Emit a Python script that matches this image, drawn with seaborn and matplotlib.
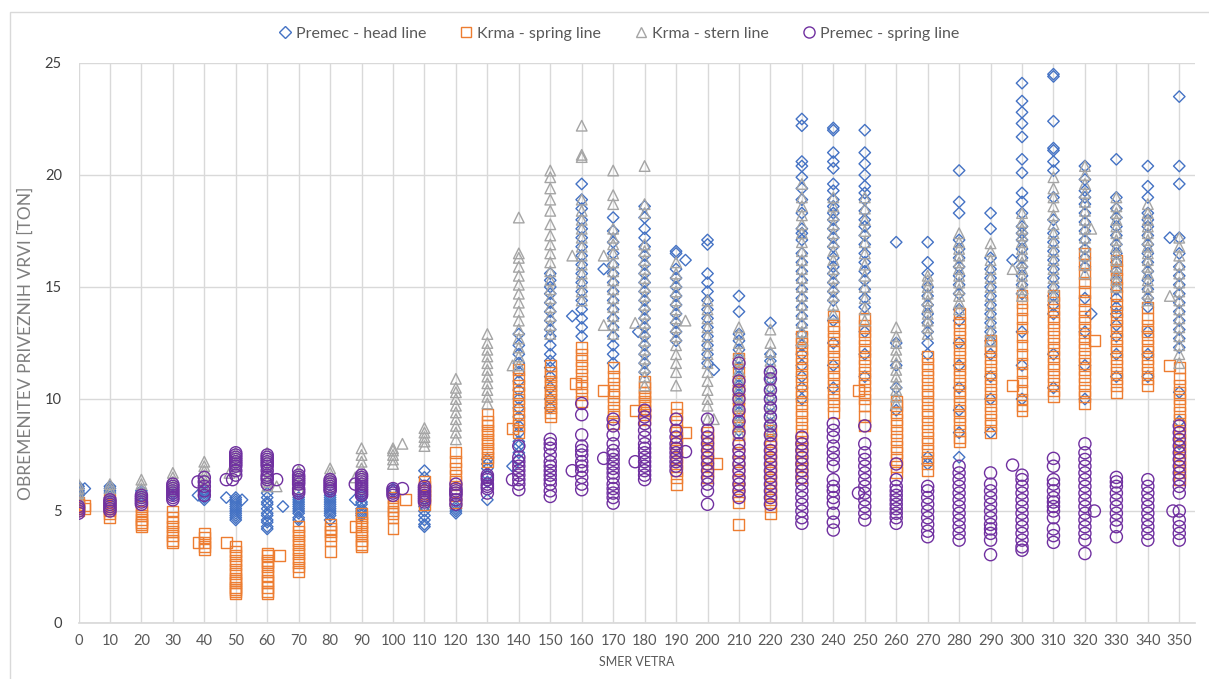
import matplotlib
matplotlib.use("Agg")
import matplotlib.pyplot as plt
from matplotlib.lines import Line2D
from matplotlib.patches import Rectangle
import seaborn as sns
import pandas as pd

# ---------------- data (wind direction -> line loads in tons) ----------------
directions = list(range(0, 360, 10))
y_ticks = [0, 5, 10, 15, 20, 25]
series_names = ["Premec - head line", "Krma - spring line", "Krma - stern line", "Premec - spring line"]

premec_head = {
    0: [5.5, 5.7, 5.8, 5.9, 6.0, 6.1], 2: [6.0],
    10: [5.6, 5.8, 5.9, 6.0, 6.1],
    20: [5.6, 5.7, 5.8, 5.9],
    30: [5.7, 5.8, 5.9],
    40: [5.5, 5.6, 5.7, 5.8, 5.9], 38: [5.7],
    50: [4.6, 4.7, 4.8, 4.9, 5.0, 5.1, 5.2, 5.3, 5.4, 5.5, 5.6], 47: [5.6], 52: [5.5],
    60: [4.2, 4.3, 4.5, 4.6, 4.8, 4.9, 5.1, 5.3, 5.4, 5.6, 5.8], 65: [5.2],
    70: [4.6, 4.7, 4.9, 5.0, 5.1, 5.2, 5.3, 5.4, 5.5, 5.6],
    80: [4.6, 4.8, 4.9, 5.0, 5.1, 5.2, 5.3, 5.4, 5.5, 5.6, 5.7, 5.9],
    90: [4.8, 4.9, 5.0, 5.1, 5.3, 5.4, 5.6, 5.7, 5.9], 88: [5.5],
    100: [5.9, 6.0],
    110: [4.3, 4.4, 4.6, 4.8, 5.0, 5.2, 5.5, 6.0, 6.5, 6.8],
    120: [4.9, 5.0, 5.1, 5.2],
    130: [5.5, 6.3, 6.6, 6.9, 7.1, 7.3],
    140: [7.3, 7.6, 7.9, 8.1, 8.5, 8.8, 9.2, 9.6, 10.0, 10.4, 10.8, 11.2, 11.6, 12.0, 12.4, 12.9], 138: [7.0],
    150: [9.6, 10.0, 10.5, 11.0, 11.4, 11.7, 12.0, 12.4, 12.8, 13.1, 13.5, 13.9, 14.3, 14.7, 15.0, 15.3, 15.6],
    160: [12.8, 13.2, 13.6, 14.0, 14.4, 14.8, 15.2, 15.6, 16.0, 16.4, 16.8, 17.2, 17.6, 18.0, 18.5, 18.9, 19.6], 157: [13.7],
    170: [11.6, 12.0, 12.4, 12.8, 13.2, 13.6, 14.0, 14.4, 14.8, 15.2, 15.6, 16.0, 16.5, 17.0, 17.5, 18.1], 167: [15.8],
    180: [11.2, 11.6, 12.0, 12.4, 12.8, 13.2, 13.6, 14.0, 14.4, 14.8, 15.2, 15.6, 16.0, 16.4, 16.8, 17.2, 17.6, 18.1, 18.6], 178: [13.0],
    190: [12.6, 13.0, 13.4, 13.8, 14.2, 14.6, 15.0, 15.4, 15.8, 16.5, 16.6], 193: [16.2],
    200: [11.6, 12.0, 12.4, 12.8, 13.2, 13.6, 14.0, 14.4, 14.8, 15.2, 15.6, 16.9, 17.1], 202: [11.3],
    210: [8.6, 9.0, 9.4, 9.8, 10.2, 10.6, 11.0, 11.4, 11.8, 12.2, 12.6, 12.9, 13.9, 14.6],
    220: [8.5, 8.9, 9.3, 9.7, 10.1, 10.5, 10.9, 11.3, 11.7, 12.0, 13.4],
    230: [10.0, 10.5, 11.0, 11.5, 12.0, 12.4, 12.9, 13.3, 13.7, 14.1, 14.5, 14.9, 15.3, 15.7, 16.1, 16.5,
          17.1, 17.4, 17.6, 18.3, 18.9, 19.4, 19.9, 20.4, 20.6, 22.2, 22.5],
    240: [10.5, 11.5, 12.5, 13.5, 14.4, 14.8, 15.2, 15.6, 15.9, 16.3, 16.8, 17.2, 17.6, 18.0, 18.3, 18.6,
          18.9, 19.3, 19.6, 20.3, 20.6, 21.0, 22.0, 22.1],
    250: [11.0, 12.0, 13.0, 14.1, 14.5, 14.9, 15.3, 15.7, 16.1, 16.5, 16.9, 17.3, 17.7, 18.0, 18.4, 18.9,
          19.2, 19.5, 20.0, 20.5, 21.0, 22.0],
    260: [9.5, 10.5, 11.5, 12.5, 17.0],
    270: [7.1, 7.4, 12.0, 12.5, 13.0, 13.4, 13.8, 14.2, 14.6, 15.0, 15.6, 16.1, 17.0],
    280: [7.4, 8.5, 9.5, 10.5, 11.5, 12.5, 13.5, 14.0, 14.7, 15.1, 15.5, 15.9, 16.3, 16.7, 17.1, 18.3, 18.8, 20.2],
    290: [8.5, 10.0, 11.0, 12.0, 12.6, 13.0, 13.4, 13.8, 14.2, 14.6, 15.0, 15.4, 15.8, 16.3, 17.6, 18.3],
    300: [10.0, 11.5, 13.0, 14.7, 15.1, 15.5, 15.9, 16.3, 16.7, 17.1, 17.4, 17.7, 18.3, 18.8, 19.2, 20.1,
          20.7, 21.7, 22.3, 22.8, 23.3, 24.1], 297: [16.2],
    310: [10.5, 12.0, 13.8, 14.2, 14.6, 15.0, 15.4, 15.8, 16.2, 16.6, 17.0, 17.4, 18.0, 19.0, 20.2, 20.6,
          21.1, 21.2, 22.4, 24.4, 24.5],
    320: [10.0, 11.5, 13.0, 14.5, 15.9, 16.3, 16.7, 17.1, 17.5, 17.9, 18.3, 18.7, 19.0, 19.3, 19.8, 20.4], 322: [13.8],
    330: [11.0, 12.0, 12.8, 13.3, 13.8, 14.1, 14.5, 14.9, 15.3, 15.7, 16.1, 16.5, 16.9, 17.3, 17.7, 18.1,
          18.5, 19.0, 20.7],
    340: [11.0, 12.0, 13.0, 14.1, 14.5, 14.9, 15.3, 15.7, 16.1, 16.5, 16.9, 17.3, 17.7, 18.0, 18.3, 19.0, 19.5, 20.4],
    350: [8.0, 9.0, 10.3, 12.3, 12.7, 13.1, 13.5, 13.9, 14.3, 14.7, 15.1, 15.5, 15.9, 16.5, 17.2, 19.6, 20.4, 23.5],
    347: [17.2],
}

krma_spring = {
    0: [5.0, 5.1, 5.2, 5.3, 5.4], 2: [5.1, 5.25],
    10: [4.7, 4.9, 5.0, 5.1, 5.2, 5.3, 5.5],
    20: [4.3, 4.4, 4.5, 4.6, 4.8, 5.0, 5.2],
    30: [3.6, 3.7, 3.9, 4.1, 4.3, 4.5, 4.7, 5.0],
    40: [3.3, 3.4, 3.6, 3.8, 4.0], 38: [3.6],
    50: [1.3, 1.4, 1.5, 1.6, 1.8, 1.9, 2.0, 2.2, 2.4, 2.6, 2.8, 3.0, 3.2, 3.4], 47: [3.6],
    60: [1.3, 1.4, 1.6, 1.8, 1.9, 2.1, 2.3, 2.5, 2.7, 2.8, 3.0, 3.1], 64: [3.0],
    70: [2.3, 2.5, 2.7, 2.9, 3.1, 3.3, 3.5, 3.7, 3.9, 4.1, 4.3],
    80: [3.2, 3.7, 3.9, 4.1, 4.2, 4.4],
    90: [3.4, 3.5, 3.7, 3.9, 4.1, 4.3, 4.5, 4.7, 4.9], 88: [4.3],
    100: [4.2, 4.7, 4.9, 5.0, 5.2, 5.4, 5.6], 104: [5.5],
    110: [5.3, 5.5, 5.7, 5.9, 6.1, 6.3],
    120: [5.4, 5.7, 6.0, 6.3, 6.6, 6.9, 7.2, 7.6],
    130: [7.2, 7.4, 7.6, 7.8, 8.0, 8.2, 8.4, 8.6, 8.8, 9.0, 9.3],
    140: [8.5, 8.8, 9.1, 9.4, 9.7, 10.0, 10.3, 10.6, 10.9, 11.3], 138: [8.7],
    150: [9.2, 9.4, 9.6, 9.8, 10.0, 10.2, 10.4, 10.6, 10.8, 11.0, 11.2, 11.5],
    160: [9.9, 10.2, 10.5, 10.8, 11.1, 11.4, 11.7, 12.0, 12.3], 158: [10.7],
    170: [8.9, 9.2, 9.5, 9.8, 10.1, 10.4, 10.7, 11.0, 11.4], 167: [10.4],
    180: [9.1, 9.3, 9.5, 9.7, 9.9, 10.1, 10.3, 10.5, 10.8], 177: [9.5],
    190: [6.2, 6.5, 6.8, 7.1, 7.4, 7.7, 8.0, 8.3, 8.6, 9.0, 9.3, 9.6], 193: [8.5],
    200: [6.5, 6.8, 7.1, 7.4, 7.7, 8.0, 8.3, 8.5], 203: [7.1],
    210: [4.4, 5.4, 5.7, 6.0, 6.4, 6.8, 7.2, 7.6, 8.0, 8.4, 8.8, 9.2, 9.6, 10.0, 10.4, 10.8, 11.2, 11.8],
    220: [4.9, 5.2, 5.5, 5.8, 6.1, 6.4, 6.7, 7.0, 7.3, 7.6, 7.9, 8.2, 8.6],
    230: [6.5, 6.8, 7.1, 7.4, 7.7, 8.0, 8.3, 8.6, 8.9, 9.2, 9.5, 9.8, 10.1, 10.4, 10.7, 11.0, 11.3, 11.6,
          11.9, 12.2, 12.5, 12.8],
    240: [9.4, 9.7, 10.0, 10.3, 10.6, 10.9, 11.2, 11.5, 11.8, 12.1, 12.4, 12.7, 13.0, 13.3, 13.7],
    250: [8.8, 9.2, 9.7, 10.0, 10.3, 10.6, 10.9, 11.2, 11.5, 11.8, 12.1, 12.4, 12.7, 13.0, 13.3, 13.6], 248: [10.4],
    260: [6.7, 7.0, 7.3, 7.6, 7.9, 8.2, 8.5, 8.8, 9.1, 9.4, 9.7, 9.9],
    270: [6.8, 7.1, 7.4, 7.7, 8.0, 8.3, 8.6, 8.9, 9.2, 9.5, 9.8, 10.1, 10.4, 10.7, 11.0, 11.3, 11.6, 11.9],
    280: [8.1, 8.3, 8.6, 8.9, 9.2, 9.5, 9.8, 10.1, 10.4, 10.7, 11.0, 11.3, 11.6, 11.9, 12.2, 12.5, 12.8,
          13.1, 13.4, 13.8],
    290: [8.5, 8.8, 9.1, 9.4, 9.7, 10.0, 10.3, 10.6, 10.9, 11.2, 11.5, 11.8, 12.1, 12.4, 12.6],
    300: [9.5, 9.7, 10.0, 10.4, 10.8, 11.2, 11.6, 12.0, 12.4, 12.8, 13.2, 13.6, 14.0, 14.3, 14.6], 297: [10.6],
    310: [10.1, 10.4, 10.7, 11.0, 11.3, 11.6, 11.9, 12.2, 12.5, 12.8, 13.1, 13.4, 13.7, 14.0, 14.3, 14.6],
    320: [9.8, 10.1, 10.4, 10.7, 11.0, 11.3, 11.6, 11.9, 12.2, 12.5, 12.8, 13.1, 13.4, 13.7, 14.0, 14.4,
          14.8, 15.2, 15.6, 16.0, 16.5], 323: [12.6],
    330: [10.3, 10.6, 10.9, 11.2, 11.5, 11.8, 12.1, 12.4, 12.7, 13.0, 13.3, 13.6, 13.9, 14.2, 14.6, 15.0,
          15.4, 15.8, 16.2],
    340: [10.6, 10.9, 11.2, 11.5, 11.8, 12.1, 12.4, 12.7, 13.0, 13.3, 13.6, 14.1],
    350: [6.4, 6.7, 7.0, 7.3, 7.6, 7.9, 8.2, 8.5, 8.8, 9.1, 9.4, 9.7, 10.0, 10.3, 10.6, 10.9, 11.4], 347: [11.5],
}

krma_stern = {
    0: [5.4, 5.6, 5.8, 6.0, 6.2],
    10: [5.6, 5.8, 6.0, 6.2],
    20: [5.6, 5.8, 6.0, 6.2, 6.4],
    30: [5.9, 6.1, 6.3, 6.5, 6.7],
    40: [6.2, 6.4, 6.6, 6.8, 7.0, 7.2],
    50: [6.8, 7.0, 7.2, 7.4, 7.6], 48: [6.7],
    60: [6.1, 6.3, 6.5, 6.8, 7.0, 7.3, 7.6], 63: [6.1],
    70: [6.0, 6.2, 6.4, 6.6, 6.8],
    80: [6.1, 6.3, 6.5, 6.7, 6.9],
    90: [6.0, 6.3, 6.6, 6.9, 7.2, 7.5, 7.8], 88: [6.5],
    100: [7.1, 7.3, 7.5, 7.7, 7.8], 103: [8.0],
    110: [7.9, 8.1, 8.3, 8.5, 8.7],
    120: [8.2, 8.5, 8.8, 9.1, 9.4, 9.7, 10.0, 10.3, 10.5, 10.9],
    130: [9.8, 10.1, 10.4, 10.7, 11.0, 11.3, 11.6, 11.9, 12.2, 12.5, 12.9],
    140: [11.5, 11.9, 12.3, 12.7, 13.1, 13.5, 13.9, 14.3, 14.7, 15.1, 15.5, 15.9, 16.3, 16.5, 18.1], 138: [11.5],
    150: [12.9, 13.3, 13.7, 14.1, 14.5, 14.9, 15.3, 15.7, 16.1, 16.5, 16.9, 17.3, 17.8, 18.4, 18.9, 19.4,
          19.9, 20.2],
    160: [14.4, 14.8, 15.2, 15.6, 16.0, 16.4, 16.8, 17.2, 17.6, 18.0, 18.4, 18.9, 20.8, 20.9, 22.2], 157: [16.4],
    170: [12.9, 13.3, 13.7, 14.1, 14.5, 14.9, 15.3, 15.7, 16.1, 16.5, 16.9, 17.2, 17.6, 18.7, 19.1, 20.2],
    167: [16.4, 13.3],
    180: [10.6, 11.0, 11.4, 11.8, 12.2, 12.6, 13.0, 13.4, 13.8, 14.2, 14.6, 15.0, 15.4, 15.8, 16.2, 16.6,
          16.9, 18.3, 18.7, 20.4], 177: [13.4],
    190: [10.6, 11.2, 11.6, 12.0, 12.4, 12.8, 13.2, 13.6, 14.0, 14.4, 14.8, 15.2, 15.6, 16.1], 193: [13.5],
    200: [9.1, 9.7, 10.0, 10.4, 10.8, 11.2, 11.6, 12.0, 12.4, 12.8, 13.2, 13.6, 14.0, 14.4], 202: [9.1],
    210: [8.5, 8.9, 9.3, 9.7, 10.1, 10.5, 10.9, 11.3, 11.7, 12.1, 12.5, 12.9, 13.2],
    220: [8.5, 8.9, 9.3, 9.7, 10.1, 10.5, 10.9, 11.3, 11.7, 12.1, 12.5, 13.1],
    230: [12.6, 13.0, 13.4, 13.8, 14.2, 14.6, 15.0, 15.4, 15.8, 16.2, 16.6, 17.0, 17.4, 17.8, 18.2, 18.6,
          19.0, 19.6],
    240: [13.8, 14.2, 14.6, 15.0, 15.4, 15.8, 16.2, 16.6, 17.0, 17.4, 17.8, 18.2, 18.6, 19.0],
    250: [13.5, 14.0, 14.5, 15.0, 15.5, 16.0, 16.5, 17.0, 17.5, 18.0, 18.5, 19.0],
    260: [9.8, 10.1, 10.4, 10.7, 11.0, 11.3, 11.6, 11.9, 12.2, 12.5, 12.8, 13.2],
    270: [12.9, 13.2, 13.5, 13.8, 14.1, 14.4, 14.7, 15.0, 15.3, 15.5],
    280: [14.0, 14.3, 14.6, 14.9, 15.2, 15.5, 15.8, 16.1, 16.4, 16.7, 17.0, 17.4],
    290: [12.6, 13.0, 13.4, 13.8, 14.2, 14.6, 15.0, 15.4, 15.8, 16.2, 16.6, 16.95],
    300: [14.6, 14.9, 15.2, 15.5, 15.8, 16.1, 16.4, 16.7, 17.0, 17.3, 17.6, 17.9, 18.3], 297: [15.8],
    310: [14.6, 15.0, 15.4, 15.8, 16.2, 16.6, 17.0, 17.4, 17.8, 18.2, 18.6, 19.0, 19.4, 19.9],
    320: [15.6, 16.0, 16.4, 16.8, 17.2, 17.6, 18.0, 18.4, 18.8, 19.2, 19.6, 20.0, 20.4], 322: [17.6],
    330: [15.0, 15.3, 15.6, 15.9, 16.2, 16.5, 16.8, 17.1, 17.4, 17.7, 18.0, 18.3, 18.6, 19.0],
    340: [14.4, 14.7, 15.0, 15.3, 15.6, 15.9, 16.2, 16.5, 16.8, 17.1, 17.4, 17.7, 18.0, 18.3, 18.7],
    350: [11.6, 12.0, 12.4, 12.8, 13.2, 13.6, 14.0, 14.4, 14.8, 15.2, 15.6, 16.0, 16.4, 16.8, 17.2], 347: [14.6],
}

premec_spring = {
    0: [4.9, 5.0, 5.1, 5.2],
    10: [5.0, 5.1, 5.2, 5.3, 5.4, 5.5],
    20: [5.3, 5.4, 5.5, 5.6, 5.7],
    30: [5.5, 5.6, 5.7, 5.8, 5.9, 6.0, 6.1, 6.2],
    40: [5.7, 5.9, 6.1, 6.3, 6.5], 38: [6.3],
    50: [6.6, 6.8, 7.0, 7.1, 7.2, 7.3, 7.4, 7.5, 7.6], 47: [6.4], 49: [6.4],
    60: [6.2, 6.4, 6.5, 6.6, 6.8, 7.0, 7.1, 7.2, 7.3, 7.4, 7.5], 63: [6.4],
    70: [5.8, 5.9, 6.0, 6.2, 6.3, 6.4, 6.5, 6.6, 6.8],
    80: [5.9, 6.0, 6.1, 6.2, 6.3, 6.4],
    90: [5.7, 5.8, 5.9, 6.0, 6.1, 6.2, 6.3, 6.4, 6.5, 6.6], 88: [6.2],
    100: [5.7, 5.8, 5.9, 6.0], 103: [6.0],
    110: [5.4, 5.5, 5.6, 5.7, 5.8, 5.9, 6.0, 6.1],
    120: [5.3, 5.5, 5.7, 5.8, 5.9, 6.0, 6.2],
    130: [5.8, 6.0, 6.1, 6.2, 6.4, 6.5, 6.6],
    140: [5.95, 6.2, 6.4, 6.6, 6.8, 7.0, 7.2, 7.4, 7.9], 138: [6.4],
    150: [5.65, 5.9, 6.2, 6.4, 6.6, 6.8, 7.0, 7.2, 7.5, 7.8, 8.0, 8.2],
    160: [5.95, 6.2, 6.5, 6.8, 7.0, 7.2, 7.5, 7.7, 7.9, 8.4, 9.3, 9.8], 157: [6.8],
    170: [5.35, 5.6, 5.8, 6.0, 6.2, 6.5, 6.7, 6.9, 7.1, 7.3, 7.5, 7.7, 8.0, 8.4, 8.8, 9.1], 167: [7.35],
    180: [6.4, 6.6, 6.8, 7.0, 7.2, 7.4, 7.6, 7.8, 8.0, 8.3, 8.6, 8.9, 9.2, 9.5], 177: [7.2],
    190: [6.8, 7.0, 7.2, 7.4, 7.6, 7.8, 8.0, 8.3, 8.6, 9.1], 193: [7.65],
    200: [5.3, 5.9, 6.2, 6.5, 6.8, 7.1, 7.4, 7.7, 8.0, 8.3, 8.6, 9.1],
    210: [5.6, 5.9, 6.2, 6.5, 6.8, 7.1, 7.4, 7.7, 8.0, 8.5, 9.0, 9.5, 10.0, 10.4, 10.8, 11.6],
    220: [5.3, 5.6, 5.9, 6.2, 6.5, 6.8, 7.1, 7.4, 7.7, 8.0, 8.4, 8.8, 9.2, 9.6, 10.0, 10.4, 10.9, 11.2],
    230: [4.45, 4.7, 5.0, 5.3, 5.6, 5.9, 6.2, 6.5, 6.8, 7.1, 7.4, 7.7, 8.0, 8.3],
    240: [4.15, 4.5, 4.9, 5.35, 5.6, 5.9, 6.1, 6.4, 7.0, 7.3, 7.6, 7.9, 8.3, 8.6, 8.9],
    250: [4.6, 4.9, 5.2, 5.5, 5.8, 6.1, 6.4, 6.7, 7.0, 7.3, 7.6, 8.0, 8.8], 248: [5.8],
    260: [4.45, 4.7, 4.9, 5.1, 5.3, 5.5, 5.7, 5.9, 6.1, 6.4, 7.1],
    270: [3.85, 4.1, 4.4, 4.7, 5.0, 5.3, 5.6, 5.9, 6.1],
    280: [3.7, 4.0, 4.3, 4.6, 4.9, 5.2, 5.5, 5.8, 6.1, 6.4, 6.7, 7.0],
    290: [3.05, 3.7, 4.0, 4.2, 4.4, 4.7, 5.0, 5.3, 5.6, 5.9, 6.2, 6.7],
    300: [3.25, 3.4, 3.7, 4.0, 4.3, 4.6, 4.9, 5.2, 5.5, 5.8, 6.1, 6.4, 6.6], 297: [7.05],
    310: [3.6, 3.9, 4.2, 4.7, 5.0, 5.2, 5.4, 5.6, 5.9, 6.2, 6.4, 7.0, 7.35],
    320: [3.1, 3.7, 4.0, 4.3, 4.6, 4.9, 5.2, 5.5, 5.8, 6.1, 6.4, 6.7, 7.0, 7.3, 7.6, 8.0], 323: [5.0],
    330: [3.85, 4.3, 4.6, 4.9, 5.2, 5.5, 5.8, 6.1, 6.3, 6.5],
    340: [3.7, 4.0, 4.3, 4.6, 4.9, 5.2, 5.5, 5.8, 6.1, 6.4],
    350: [3.7, 4.0, 4.3, 4.6, 5.0, 5.8, 6.1, 6.4, 6.7, 7.0, 7.3, 7.6, 7.9, 8.2, 8.5, 8.8], 348: [5.0],
}

# ---------------- styling ----------------
colors = ["#4472C4", "#ED7D31", "#A5A5A5", "#7030A0"]
markers = ["D", "s", "^", "o"]
sizes = [34, 62, 58, 76]

sns.set_theme(style="white")
plt.rcParams["font.family"] = ["Lato", "DejaVu Sans"]

fig = plt.figure(figsize=(12.09, 6.79), dpi=100)
ax = fig.add_axes([78.5 / 1209, 56 / 679, (1195 - 78.5) / 1209, 560 / 679])


def to_frame(d):
    xs, ys = [], []
    for k, vals in d.items():
        xs += [k] * len(vals)
        ys += vals
    return pd.DataFrame({"dir": xs, "load": ys})


all_series = [premec_head, krma_spring, krma_stern, premec_spring]
for i, (name, d) in enumerate(zip(series_names, all_series)):
    df = to_frame(d)
    sns.scatterplot(data=df, x="dir", y="load", ax=ax, marker=markers[i], s=sizes[i],
                    facecolor="none", edgecolor=colors[i], linewidth=1.0, zorder=3 + i,
                    legend=False)

ax.set_xlim(0, 355)
ax.set_ylim(0, 25)
ax.set_xticks(directions)
ax.set_xticklabels([str(d) for d in directions])
ax.set_yticks(y_ticks)
ax.set_yticklabels([str(t) for t in y_ticks])
ax.grid(True, color="#D9D9D9", linewidth=1.0)
ax.set_axisbelow(True)
for s in ["top", "right", "left"]:
    ax.spines[s].set_visible(False)
ax.spines["bottom"].set_color("#D9D9D9")
ax.tick_params(axis="x", length=0, labelsize=10.5, colors="#595959", pad=8)
ax.tick_params(axis="y", length=0, labelsize=10.5, colors="#404040", pad=12)
ax.set_xlabel("SMER VETRA", fontsize=9, color="#595959", labelpad=6)
ax.set_ylabel("OBREMENITEV PRIVEZNIH VRVI [TON]", fontsize=12.5, color="#7F7F7F", labelpad=8)

handles = [Line2D([], [], linestyle="none", marker=markers[i], markersize=[6, 7, 7, 8][i],
                  markerfacecolor="none", markeredgecolor=colors[i], markeredgewidth=1.0)
           for i in range(4)]
fig.legend(handles, series_names, loc="center", bbox_to_anchor=(618 / 1209, 1 - 34 / 679), ncol=4,
           frameon=False, fontsize=11.5, labelcolor="#595959", handletextpad=0.2, columnspacing=2.0,
           handlelength=1.0)

fig.patches.append(Rectangle((10 / 1209, -0.05), 1.1, 1 - 12 / 679 + 0.05, transform=fig.transFigure,
                             fill=False, edgecolor="#D9D9D9", linewidth=1.0, zorder=0))

fig.savefig("out.png", dpi=100, facecolor="white")
